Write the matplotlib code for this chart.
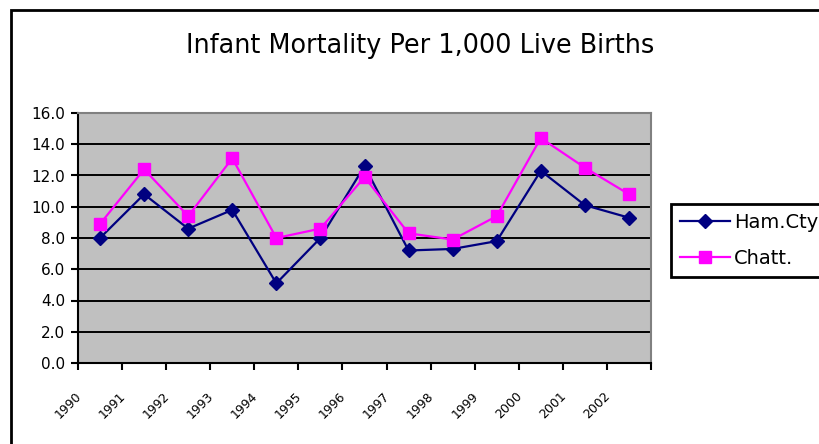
import matplotlib
matplotlib.use("Agg")
import matplotlib.pyplot as plt
import matplotlib.patches as patches
from matplotlib.transforms import ScaledTranslation
import numpy as np

years = ["1990", "1991", "1992", "1993", "1994", "1995", "1996",
         "1997", "1998", "1999", "2000", "2001", "2002"]
ham_cty = [8.0, 10.8, 8.6, 9.8, 5.1, 8.0, 12.6, 7.2, 7.3, 7.8, 12.3, 10.1, 9.3]
chatt = [8.9, 12.4, 9.4, 13.1, 8.0, 8.6, 11.9, 8.3, 7.9, 9.4, 14.4, 12.5, 10.8]

W, H = 820, 444
fig = plt.figure(figsize=(W / 100, H / 100), dpi=100)
plt.rcParams['font.family'] = ['DejaVu Sans']

# outer chart border (cropped on right and bottom)
fig.patches.append(patches.Rectangle((11 / W, -0.1), 1.2, 1 - 10 / H + 0.1,
                                     transform=fig.transFigure, fill=False,
                                     edgecolor='black', linewidth=2))

ax = fig.add_axes([78 / W, 1 - 363 / H, (651 - 78) / W, (363 - 113) / H])
ax.set_facecolor('#C0C0C0')

x = np.arange(len(years))
ax.plot(x, ham_cty, color='#000080', linewidth=1.6, marker='D', markersize=7.5,
        label='Ham.Cty', zorder=3)
ax.plot(x, chatt, color='#FF00FF', linewidth=1.6, marker='s', markersize=8,
        markerfacecolor='#FF00FF', markeredgecolor='#FF00FF', label='Chatt.', zorder=3)

ax.set_xlim(-0.5, len(years) - 0.5)
ax.set_ylim(0, 16)
ax.set_yticks(np.arange(0, 16.1, 2))
ax.set_yticklabels(['%.1f' % v for v in np.arange(0, 16.1, 2)], fontsize=11)
ax.yaxis.grid(True, color='black', linewidth=1.4)
ax.set_axisbelow(True)

ax.set_xticks(x)
ax.set_xticklabels(years, rotation=45, ha='right', va='top', fontsize=9)
ax.set_xticks(np.arange(-0.5, len(years)), minor=True)
ax.tick_params(axis='x', which='major', length=0, pad=19)
ax.tick_params(axis='x', which='minor', length=5, width=1.5, direction='out')
ax.tick_params(axis='y', length=5, width=1.5, direction='out', pad=4)
# excel puts the rotated labels a bit left of the category centre
shift = ScaledTranslation(-16 / 100, 0, fig.dpi_scale_trans)
for lbl in ax.get_xticklabels():
    lbl.set_transform(lbl.get_transform() + shift)

for s in ['left', 'bottom']:
    ax.spines[s].set_color('black')
    ax.spines[s].set_linewidth(1.5)
for s in ['top', 'right']:
    ax.spines[s].set_color('#808080')
    ax.spines[s].set_linewidth(1.5)

fig.text(420 / W, 1 - 46 / H, 'Infant Mortality Per 1,000 Live Births',
         ha='center', va='center', fontsize=18.4)

leg = fig.legend(loc='upper left', bbox_to_anchor=(671 / W, 1 - 204 / H),
                 fontsize=14, frameon=True, fancybox=False, framealpha=1,
                 edgecolor='black', handlelength=2.6, handletextpad=0.2,
                 labelspacing=0.9, borderpad=0.45, borderaxespad=0)
leg.get_frame().set_linewidth(2)

fig.savefig('out.png', dpi=100)
